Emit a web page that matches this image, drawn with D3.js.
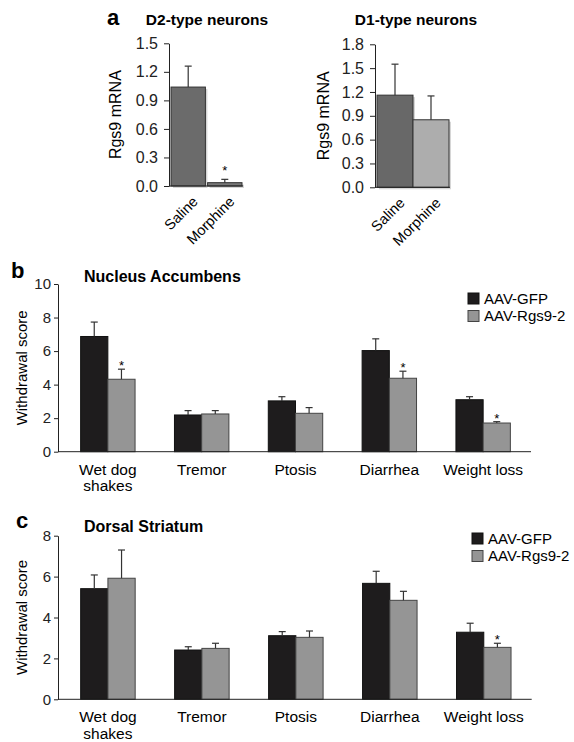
<!DOCTYPE html>
<html>
<head>
<meta charset="utf-8">
<script src="https://cdn.jsdelivr.net/npm/d3@7"></script>
<style>
  body { margin: 0; background: #fff; }
  svg { font-family: "Liberation Sans", Arial, sans-serif; }
  .tick line, .domain { stroke: #222; }
</style>
</head>
<body>
<svg width="574" height="742"></svg>
<script>
// panel a
let treatments = ["Saline", "Morphine"];
let d2Values = [1.04, 0.035],
    d2Err = [0.22, 0.035],
    d2Sig = [false, true];
let d1Values = [1.16, 0.85],
    d1Err = [0.39, 0.30],
    d1Sig = [false, false];
let d2Ticks = [0, 0.3, 0.6, 0.9, 1.2, 1.5];
let d1Ticks = [0, 0.3, 0.6, 0.9, 1.2, 1.5, 1.8];

// panels b and c
let categories = ["Wet dog shakes", "Tremor", "Ptosis", "Diarrhea", "Weight loss"];
let groups = ["AAV-GFP", "AAV-Rgs9-2"];
let naccGfp = [6.87, 2.19, 3.03, 6.03, 3.10],
    naccGfpErr = [0.86, 0.26, 0.25, 0.70, 0.18],
    naccRgs = [4.32, 2.25, 2.29, 4.38, 1.71],
    naccRgsErr = [0.60, 0.20, 0.34, 0.42, 0.08],
    naccSig = [true, false, false, true, true];
let dsGfp = [5.41, 2.41, 3.11, 5.67, 3.28],
    dsGfpErr = [0.67, 0.16, 0.20, 0.59, 0.44],
    dsRgs = [5.92, 2.49, 3.03, 4.84, 2.54],
    dsRgsErr = [1.38, 0.25, 0.31, 0.44, 0.20],
    dsSig = [false, false, false, false, true];
let naccTicks = [0, 2, 4, 6, 8, 10];
let dsTicks = [0, 2, 4, 6, 8];

let svg = d3.select("svg");

let errBar = (g, x, yTop, yErr) => {
  g.append("line").attr("x1", x).attr("x2", x).attr("y1", yTop).attr("y2", yErr)
    .attr("stroke", "#333").attr("stroke-width", 1.2);
  g.append("line").attr("x1", x - 3.5).attr("x2", x + 3.5).attr("y1", yErr).attr("y2", yErr)
    .attr("stroke", "#333").attr("stroke-width", 1.2);
};

// ---- panel a: two small bar charts
let smallChart = (opt) => {
  let g = svg.append("g");
  let y = d3.scaleLinear().domain([0, opt.max]).range([opt.bottom, opt.top]);
  let x = d3.scaleBand().domain(treatments).range([opt.left + 2, opt.right]).paddingInner(opt.pad);

  // shadow then bars
  g.selectAll("rect.shadow").data(opt.values).enter().append("rect")
    .attr("x", (d, i) => x(treatments[i]) + 2)
    .attr("y", d => y(d) + 2)
    .attr("width", x.bandwidth())
    .attr("height", d => y(0) - y(d))
    .attr("fill", "#bbb").attr("opacity", 0.6);
  g.selectAll("rect.bar").data(opt.values).enter().append("rect")
    .attr("x", (d, i) => x(treatments[i]))
    .attr("y", d => y(d))
    .attr("width", x.bandwidth())
    .attr("height", d => y(0) - y(d))
    .attr("fill", (d, i) => opt.colors[i])
    .attr("stroke", "#333").attr("stroke-width", 1);

  opt.values.forEach((v, i) => {
    let cx = x(treatments[i]) + x.bandwidth() / 2;
    errBar(g, cx, y(v), y(v + opt.err[i]));
    if (opt.sig[i]) {
      g.append("text").attr("x", cx).attr("y", y(v + opt.err[i]) - 4)
        .attr("text-anchor", "middle").attr("font-size", 13).text("*");
    }
  });

  g.append("g").attr("transform", `translate(${opt.left},0)`)
    .call(d3.axisLeft(y).tickValues(opt.ticks).tickFormat(d3.format(".1f"))
      .tickSize(5).tickSizeOuter(0).tickPadding(6))
    .attr("font-family", null)
    .call(a => a.selectAll("text").attr("font-size", 16).attr("fill", "#222"));
  g.append("line").attr("x1", opt.left).attr("x2", opt.right + 1)
    .attr("y1", y(0)).attr("y2", y(0)).attr("stroke", "#222");

  g.append("text")
    .attr("transform", `translate(${opt.labelX},${(opt.top + opt.bottom) / 2}) rotate(-90)`)
    .attr("text-anchor", "middle").attr("dy", "0.35em").attr("font-size", 16)
    .text("Rgs9 mRNA");
  g.append("text").attr("x", opt.titleX).attr("y", 25).attr("text-anchor", "middle")
    .attr("font-size", 15.5).attr("font-weight", "bold").text(opt.title);

  treatments.forEach(t => {
    let cx = x(t) + x.bandwidth() / 2 + 7;
    g.append("text")
      .attr("transform", `translate(${cx},${opt.bottom + 13}) rotate(-45)`)
      .attr("text-anchor", "end").attr("dy", "0.35em").attr("font-size", 14.5)
      .text(t);
  });
};

smallChart({left: 169, right: 242, top: 43.3, bottom: 186, max: 1.5, pad: 0.06,
  values: d2Values, err: d2Err, sig: d2Sig, ticks: d2Ticks,
  colors: ["#6b6b6b", "#777777"], labelX: 115, titleX: 207, title: "D2-type neurons"});
smallChart({left: 375, right: 449, top: 44.3, bottom: 187.3, max: 1.8, pad: 0,
  values: d1Values, err: d1Err, sig: d1Sig, ticks: d1Ticks,
  colors: ["#686868", "#adadad"], labelX: 323, titleX: 416, title: "D1-type neurons"});

svg.append("text").attr("x", 107).attr("y", 25).attr("font-size", 22)
  .attr("font-weight", "bold").text("a");

// ---- panels b and c: grouped bar charts
let groupedChart = (opt) => {
  let g = svg.append("g");
  let y = d3.scaleLinear().domain([0, opt.max]).range([opt.bottom, opt.top]);
  let x = d3.scaleBand().domain(categories).range([opt.left + 2, opt.right]).paddingInner(0.42).paddingOuter(0.22);
  let x1 = d3.scaleBand().domain(groups).range([0, x.bandwidth()]);
  let colors = ["#1e1c1d", "#959595"];
  let strokes = ["#111", "#444"];
  let series = [
    {vals: opt.gfp, err: opt.gfpErr, sig: categories.map(() => false)},
    {vals: opt.rgs, err: opt.rgsErr, sig: opt.sig}
  ];

  series.forEach((s, si) => {
    g.selectAll(null).data(s.vals).enter().append("rect")
      .attr("x", (d, i) => x(categories[i]) + x1(groups[si]))
      .attr("y", d => y(d))
      .attr("width", x1.bandwidth())
      .attr("height", d => y(0) - y(d))
      .attr("fill", colors[si]).attr("stroke", strokes[si]).attr("stroke-width", 1);
    s.vals.forEach((v, i) => {
      let cx = x(categories[i]) + x1(groups[si]) + x1.bandwidth() / 2;
      errBar(g, cx, y(v), y(v + s.err[i]));
      if (s.sig[i]) {
        g.append("text").attr("x", cx).attr("y", y(v + s.err[i]) + 1)
          .attr("text-anchor", "middle").attr("font-size", 13).text("*");
      }
    });
  });

  g.append("g").attr("transform", `translate(${opt.left},0)`)
    .call(d3.axisLeft(y).tickValues(opt.ticks).tickSize(4).tickSizeOuter(0).tickPadding(3))
    .attr("font-family", null)
    .call(a => a.selectAll("text").attr("font-size", 15).attr("fill", "#222"));
  g.append("line").attr("x1", opt.left).attr("x2", opt.right)
    .attr("y1", y(0)).attr("y2", y(0)).attr("stroke", "#222");

  categories.forEach(c => {
    let cx = x(c) + x.bandwidth() / 2;
    let words = c === "Wet dog shakes" ? ["Wet dog", "shakes"] : [c];
    words.forEach((w, k) => {
      g.append("text").attr("x", cx).attr("y", opt.bottom + 23 + k * 16.5)
        .attr("text-anchor", "middle").attr("font-size", 15.5).text(w);
    });
  });

  g.append("text")
    .attr("transform", `translate(22,${(opt.top + opt.bottom) / 2}) rotate(-90)`)
    .attr("text-anchor", "middle").attr("dy", "0.35em").attr("font-size", 15)
    .text("Withdrawal score");
  g.append("text").attr("x", opt.letterX).attr("y", opt.letterY).attr("font-size", 22)
    .attr("font-weight", "bold").text(opt.letter);
  g.append("text").attr("x", 84).attr("y", opt.titleY).attr("font-size", 16)
    .attr("font-weight", "bold").text(opt.title);

  // legend
  groups.forEach((grp, i) => {
    g.append("rect").attr("x", opt.legX).attr("y", opt.legY + i * 17.5)
      .attr("width", 11).attr("height", 11)
      .attr("fill", colors[i]).attr("stroke", strokes[i]);
    g.append("text").attr("x", opt.legX + 16).attr("y", opt.legY + i * 17.5 + 10.5)
      .attr("font-size", 15).text(grp);
  });
};

groupedChart({left: 58, right: 531, top: 284, bottom: 451.7, max: 10, ticks: naccTicks,
  gfp: naccGfp, gfpErr: naccGfpErr, rgs: naccRgs, rgsErr: naccRgsErr, sig: naccSig,
  letter: "b", letterX: 11, letterY: 278, title: "Nucleus Accumbens", titleY: 282,
  legX: 468, legY: 293});
groupedChart({left: 58, right: 531.7, top: 535.7, bottom: 699.3, max: 8, ticks: dsTicks,
  gfp: dsGfp, gfpErr: dsGfpErr, rgs: dsRgs, rgsErr: dsRgsErr, sig: dsSig,
  letter: "c", letterX: 16, letterY: 528, title: "Dorsal Striatum", titleY: 532,
  legX: 472, legY: 533});
</script>
</body>
</html>
